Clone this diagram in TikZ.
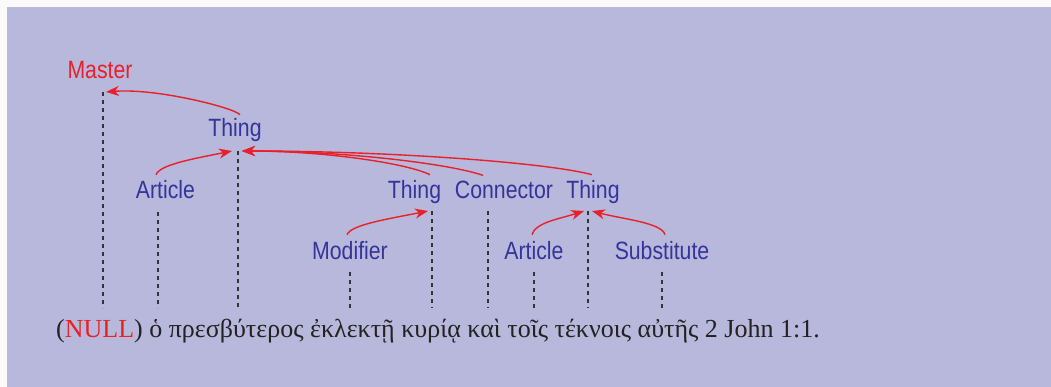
\documentclass[tikz,border=0pt]{standalone}
\usepackage{fontspec}
\setmainfont{Liberation Serif}
\newfontfamily\labelfont[FakeStretch=0.85]{Liberation Sans}
\usetikzlibrary{arrows.meta}
\definecolor{panel}{HTML}{B8B8DC}
\definecolor{margin}{HTML}{FAFAFA}
\definecolor{roleblue}{HTML}{34349A}
\definecolor{rolered}{HTML}{E8202A}
\definecolor{guidegray}{HTML}{333333}
\definecolor{versegray}{HTML}{222222}
\begin{document}
\begin{tikzpicture}[x=1pt,y=1pt,
  role/.style={font=\labelfont\fontsize{25}{25}\selectfont, text=roleblue, inner sep=0pt, anchor=base},
  masterrole/.style={role, text=rolered},
  guide/.style={draw=guidegray, line width=1.1pt, dash pattern=on 4pt off 4pt},
  link/.style={draw=rolered, line width=1.4pt, -{Stealth[length=13pt,width=10pt,inset=4pt]}}]
\useasboundingbox (0,0) rectangle (1051,-387);
\fill[margin] (0,0) rectangle (1051,-387);
\fill[panel] (7,-7) rectangle (1051,-387);

% role labels
\node[masterrole] (master) at (100,-79) {Master};
\node[role] (thingA) at (235,-137) {Thing};
\node[role] (article1) at (165.5,-199) {Article};
\node[role] (thing2) at (414.5,-199) {Thing};
\node[role] (conn) at (504,-199) {Connector};
\node[role] (thing3) at (593,-199) {Thing};
\node[role] (modifier) at (350,-259) {Modifier};
\node[role] (article2) at (534,-259) {Article};
\node[role] (subst) at (662,-259) {Substitute};

% guide lines down to the text
\coordinate (master-t) at (103,-92);   \coordinate (master-b) at (103,-308);
\coordinate (thingA-t) at (238,-151);  \coordinate (thingA-b) at (238,-308);
\coordinate (article1-t) at (158,-212);\coordinate (article1-b) at (158,-308);
\coordinate (thing2-t) at (432,-211);  \coordinate (thing2-b) at (432,-308);
\coordinate (conn-t) at (488,-211);    \coordinate (conn-b) at (488,-308);
\coordinate (thing3-t) at (588,-211);  \coordinate (thing3-b) at (588,-308);
\coordinate (modifier-t) at (350,-272);\coordinate (modifier-b) at (350,-308);
\coordinate (article2-t) at (534,-272);\coordinate (article2-b) at (534,-308);
\coordinate (subst-t) at (662,-272);   \coordinate (subst-b) at (662,-308);
\foreach \g in {master,thingA,article1,thing2,conn,thing3,modifier,article2,subst}
  \draw[guide] (\g-t) -- (\g-b);

% dependency arrows
\draw[link] ([xshift=5pt,yshift=4pt]thingA.north) .. controls +(-6,7) and +(50,4) .. ([xshift=3pt]master-t);
\draw[link] ([xshift=-9.5pt,yshift=6pt]article1.north) .. controls +(4,10) and +(-40,-8) .. ([xshift=-6pt]thingA-t);
\draw[link] ([xshift=15.5pt,yshift=6pt]thing2.north) .. controls +(-25,12) and +(80,0) .. ([xshift=4pt]thingA-t);
\draw[link] ([xshift=-21pt,yshift=6pt]conn.north) .. controls +(-35,12) and +(100,0) .. ([xshift=4pt]thingA-t);
\draw[link] ([xshift=-1pt,yshift=6pt]thing3.north) .. controls +(-45,12) and +(150,0) .. ([xshift=4pt]thingA-t);
\draw[link] ([xshift=-3pt,yshift=6pt]modifier.north) .. controls +(4,10) and +(-40,-8) .. ([xshift=-4pt]thing2-t);
\draw[link] ([xshift=-2pt,yshift=6pt]article2.north) .. controls +(3,12) and +(-25,-8) .. ([xshift=-4pt]thing3-t);
\draw[link] ([xshift=3pt,yshift=6pt]subst.north) .. controls +(-3,12) and +(30,-8) .. ([xshift=4pt]thing3-t);

% the verse
\node[anchor=base west, inner sep=0pt, font=\fontsize{26}{26}\selectfont, text=versegray] (verse) at (56,-337)
  {(\textcolor{rolered}{NULL}) ὁ πρεσβύτερος ἐκλεκτῇ κυρίᾳ καὶ τοῖς τέκνοις αὐτῆς 2 John 1:1.};
\end{tikzpicture}
\end{document}
